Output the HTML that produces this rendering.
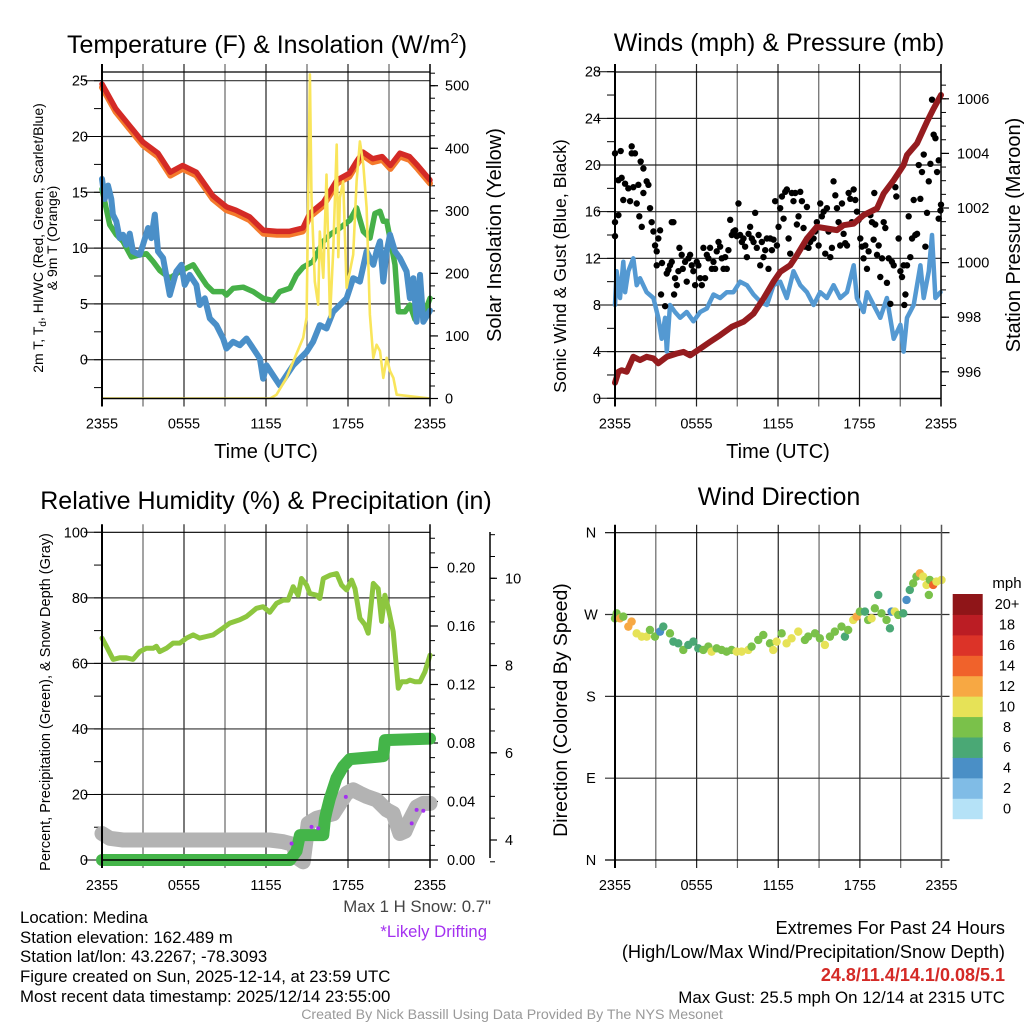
<!DOCTYPE html>
<html><head><meta charset="utf-8">
<style>
html,body{margin:0;padding:0;background:#fff;}
svg{display:block;font-family:"Liberation Sans",Arial,sans-serif;}
</style></head>
<body>
<svg id="chart" width="1024" height="1024" viewBox="0 0 1024 1024" xmlns="http://www.w3.org/2000/svg">
<rect x="0" y="0" width="1024" height="1024" fill="#fff"/>
<g id="layer"></g>
<text x="267" y="53" font-size="25" text-anchor="middle">Temperature (F) &amp; Insolation (W/m<tspan font-size="15" dy="-10">2</tspan><tspan dy="10">)</tspan></text>
<text x="779" y="51" font-size="25" text-anchor="middle">Winds (mph) &amp; Pressure (mb)</text>
<text x="266" y="509" font-size="25" text-anchor="middle">Relative Humidity (%) &amp; Precipitation (in)</text>
<text x="779" y="505" font-size="25" text-anchor="middle">Wind Direction</text>

<text x="266" y="458" font-size="20" text-anchor="middle">Time (UTC)</text>
<text x="778" y="458" font-size="20" text-anchor="middle">Time (UTC)</text>

<text transform="translate(43,238) rotate(-90)" font-size="14" text-anchor="middle">2m T, T<tspan font-size="10" dy="3">d</tspan><tspan dy="-3">, HI/WC (Red, Green, Scarlet/Blue)</tspan></text>
<text transform="translate(57,238) rotate(-90)" font-size="14" text-anchor="middle">&amp; 9m T (Orange)</text>
<text transform="translate(501,235) rotate(-90)" font-size="20" text-anchor="middle">Solar Insolation (Yellow)</text>
<text transform="translate(566,266) rotate(-90)" font-size="17.7" text-anchor="middle">Sonic Wind &amp; Gust (Blue, Black)</text>
<text transform="translate(1020,235) rotate(-90)" font-size="20" text-anchor="middle">Station Pressure (Maroon)</text>
<text transform="translate(50,702) rotate(-90)" font-size="14.5" text-anchor="middle">Percent, Precipitation (Green), &amp; Snow Depth (Gray)</text>
<text transform="translate(567,710) rotate(-90)" font-size="19.5" text-anchor="middle">Direction (Colored By Speed)</text>

<text x="491" y="912" font-size="16.8" fill="#444" text-anchor="end">Max 1 H Snow: 0.7"</text>
<text x="487" y="937" font-size="16.7" fill="#a431f0" text-anchor="end">*Likely Drifting</text>

<g font-size="16.8">
<text x="20" y="923">Location: Medina</text>
<text x="20" y="943">Station elevation: 162.489 m</text>
<text x="20" y="962">Station lat/lon: 43.2267; -78.3093</text>
<text x="20" y="982">Figure created on Sun, 2025-12-14, at 23:59 UTC</text>
<text x="20" y="1002">Most recent data timestamp: 2025/12/14 23:55:00</text>
</g>
<g text-anchor="end">
<text x="1005" y="934" font-size="18.2">Extremes For Past 24 Hours</text>
<text x="1005" y="958" font-size="18.2">(High/Low/Max Wind/Precipitation/Snow Depth)</text>
<text x="1005" y="981" font-size="18" fill="#d42a26" font-weight="bold">24.8/11.4/14.1/0.08/5.1</text>
<text x="1005" y="1003" font-size="16.9">Max Gust: 25.5 mph On 12/14 at 2315 UTC</text>
</g>
<text x="512" y="1019" font-size="14.2" fill="#999" text-anchor="middle">Created By Nick Bassill Using Data Provided By The NYS Mesonet</text>
</svg>
<script>
// ---------- data ----------
const xTickLabels = ["2355","0555","1155","1755","2355"];
const tempTicks = [0,5,10,15,20,25];
const insolTicks = [0,100,200,300,400,500];
const windTicks = [0,4,8,12,16,20,24,28];
const presTicks = [996,998,1000,1002,1004,1006];
const rhTicks = [0,20,40,60,80,100];
const precipTicks = [0.00,0.04,0.08,0.12,0.16,0.20];
const snowTicks = [4,6,8,10];
const dirLabels = ["N","E","S","W","N"];
const dirTicks = [0,90,180,270,360];
const speedBins = ["0","2","4","6","8","10","12","14","16","18","20+"];

const redHours = [0,1,2,3,4.1,5,5.9,6.9,8.1,9.1,9.8,10.8,11.8,12.8,13.7,14.7,15.2,16.2,17.2,18.1,18.6,19.1,19.8,20.5,21.1,21.8,22.5,23.1,24];
const redTemp =  [24.7,22.5,21,19.5,18.5,16.8,17.4,16.8,14.7,13.7,13.4,12.8,11.6,11.5,11.5,11.8,13.1,14.1,16.1,16.7,17.7,18.6,18,18.2,17.4,18.5,18.2,17.4,16.1];
const orangeTemp=[24.4,22.2,20.7,19.2,18.2,16.5,17.1,16.5,14.4,13.4,13.1,12.5,11.3,11.2,11.2,11.5,12.8,13.8,15.8,16.4,17.4,18.3,17.7,17.9,17.1,18.2,17.9,17.1,15.8];
const blueHours = [0,0.2,0.44,0.68,0.8,1.05,1.29,1.54,1.78,2.03,2.27,2.76,3,3.37,3.61,3.86,4.1,4.47,4.96,5.44,5.81,6.05,6.42,6.91,7.15,7.52,7.89,8.37,8.86,9.1,9.59,10.08,10.57,11.06,11.55,11.79,12.04,12.52,13.01,13.5,13.99,14.48,14.97,15.45,15.94,16.43,16.92,17.41,17.9,18.38,18.87,19.36,19.85,20.09,20.34,20.58,20.83,21.07,21.44,21.8,22.29,22.53,22.78,23.02,23.27,23.51,24];
const blueTemp =  [16.2,14.4,15.6,14.4,13,12.4,10.9,11.2,10.3,11.3,9.7,9.4,10.3,11.8,10.9,13,9.7,9.1,5.8,7.9,8.5,6.7,7.6,6.7,4.9,5.5,3.7,3.1,1.9,1,1.6,1.3,1.9,1,0.1,-1.7,-0.5,-1.4,-2.3,-1.4,-0.5,0.1,0.7,1.6,3.1,2.8,4.3,4.9,5.5,7.3,7,9.7,8.5,9.7,10.6,7,9.7,11.2,9.7,9.1,7.9,5.5,7.3,3.4,7.6,3.4,4.4];
const greenHours = [0,0.56,1.05,1.54,2.15,2.76,3.25,3.74,4.22,4.96,5.69,6.18,6.67,7.15,7.64,8.13,8.86,9.1,9.59,10.33,11.06,11.79,12.52,13.01,13.75,14.23,14.72,15.45,16.19,16.68,17.41,18.14,18.63,19.12,19.61,19.97,20.34,20.58,20.83,21.07,21.44,21.68,22.17,22.53,22.9,23.27,23.63,24];
const greenTemp =  [15.3,12.1,11.2,10.6,9.2,9.4,9.5,8.8,8,7.3,7.9,8.2,8.5,7.6,6.7,6.1,6.1,5.8,6.4,6.5,6.1,5.5,5.3,6.1,6.4,7.6,8.3,8.8,10.6,11.2,11.8,12.5,13.6,11.5,10.9,13.1,13.3,12.4,12.4,10.9,8.5,4.3,4.3,4.9,3.6,4.3,4.3,5.5];
const solarHours = [0,12.3,12.77,13.5,14.11,14.72,14.97,15.09,15.21,15.33,15.57,15.82,15.94,16.19,16.43,16.68,16.92,17.17,17.29,17.41,17.65,17.9,18.38,18.63,18.87,19.12,19.36,19.6,19.85,20.09,20.34,20.58,20.83,21.07,21.32,21.56,24];
const solarVals =  [0,0,6,33,65,97,130,321,518,321,187,150,267,193,358,130,235,406,226,321,347,177,230,347,411,374,305,134,65,86,76,33,65,44,33,6,0];

const windHours = [0,0.12,0.37,0.61,0.74,0.98,1.35,1.6,1.84,2.33,2.83,3.19,3.44,3.69,3.81,4.05,4.42,4.79,5.28,5.77,6.27,6.76,7.25,7.74,8.23,8.72,9.21,9.71,10.2,10.69,11.18,11.67,12.16,12.65,13.14,13.64,14.13,14.62,15.11,15.6,16.09,16.58,17.08,17.57,17.81,18.3,18.55,19.04,19.53,20.02,20.52,21.01,21.25,21.5,21.99,22.48,22.73,23.1,23.34,23.59,23.96];
const windSpeed = [8,10.9,8.6,11.7,9.1,10.9,12,9.7,10.3,9.1,8.6,6.9,5.1,6.9,4,8,7.4,6.9,7.4,6.6,7.4,7.7,8.9,8.6,9.1,9.1,10,9.7,8.9,8.3,8,9.7,10,8.6,10.9,9.7,9.1,8,9.1,8.6,9.7,8.6,9.1,11.4,8.6,7.4,9.1,8,6.9,8.6,5.1,6.3,4,6.9,8,11.4,8.6,10.9,14,8.6,9.1];
const gustHours = [0,0,0,0.25,0.25,0.42,0.49,0.61,0.74,0.98,1.11,1.23,1.23,1.35,1.47,1.6,1.72,1.79,1.89,1.97,2.09,2.09,2.33,2.46,2.58,2.7,2.83,2.95,3.07,3.19,3.32,3.07,3.39,3.46,3.69,3.81,3.93,4.05,4.18,4.18,4.3,4.35,4.42,4.55,4.67,4.74,4.91,4.99,5.16,5.28,5.41,5.53,5.65,5.77,5.9,6.02,6.14,6.27,6.39,6.51,6.63,6.76,6.88,7,7.13,7.25,7.37,7.49,7.62,7.74,7.86,7.99,8.11,8.23,8.35,8.48,8.6,8.72,8.85,8.97,9.09,9.21,9.34,9.46,9.58,9.71,9.83,9.95,10.07,10.2,10.32,10.44,10.57,10.69,10.81,10.93,11.06,11.18,11.3,11.43,11.55,11.67,11.79,11.92,12.04,12.16,12.29,12.41,12.53,12.65,12.78,12.9,13.02,13.14,13.27,13.39,13.51,13.64,13.76,13.88,14,14.13,14.25,14.37,14.62,14.74,14.86,14.99,15.11,15.23,15.36,15.48,15.6,15.72,15.85,15.97,16.09,16.22,16.34,16.46,16.58,16.71,16.83,16.95,17.08,17.2,17.32,17.44,17.57,17.69,17.81,17.94,18.06,18.18,18.3,18.43,18.55,18.67,18.8,18.92,19.04,19.09,19.16,19.29,19.41,19.53,19.66,19.78,19.9,20.02,20.15,20.27,20.39,20.52,20.64,20.71,20.88,21.01,21.13,21.25,21.3,21.38,21.5,21.62,21.74,21.87,21.99,22.11,22.24,22.36,22.48,22.6,22.73,22.85,22.97,23.1,23.22,23.34,23.46,23.59,23.71,23.83,23.83,23.96,24];
const gustSpeed = [13.9,15.1,21,18.7,15.7,21.2,18.9,17,18.4,18,16.9,21.6,21,18.1,21,16.7,18.3,15.6,20.3,14.7,19.7,17.6,18.6,18.3,16.3,15.1,14.3,13.1,12.6,13.7,14.4,11.4,8.9,11.6,7.9,10.7,11,11.4,11.7,15.1,15.1,8.9,10.3,9.7,10.9,12.9,12.3,11.1,11.7,10,12,12.3,11.4,10.9,9.7,11.7,11.4,10.3,9.7,12.9,10.3,12.3,12,12.9,11.1,11.7,11.1,12.6,13.4,13,12,11.1,12.1,11.1,12.7,15.3,14,14.3,14.4,13.9,16.7,14,13.4,13.7,13,12.1,14.1,14.7,13.7,13.4,15.9,12.9,14,11.4,13.4,12.1,12.7,13.7,11.1,13.7,12.7,13.6,16.9,13.1,14.7,16.3,17.3,15.4,17.7,17.9,13.7,12.4,17.6,16.9,17.6,14.9,15.6,17.7,16.9,14.6,13,16.4,12.9,13.4,13.7,14.3,15.1,13.1,16.7,15.6,16,12.4,16.3,14.3,12.1,12.9,18.6,17.4,16.3,15.1,13.1,16.7,14.1,13.3,13.1,17.6,17.1,15.1,17.9,17,16,15.3,13.7,13,12,13.1,11.1,12.6,15.7,15.1,13.6,17.6,14.9,12.3,13.1,10.4,12,15.1,14.6,9.9,12,8.1,11.7,11.4,18.1,17.3,13.7,10.9,10.4,11.4,8,8.9,11.4,15.6,12.1,13.7,17,14,14.1,20,17.1,19.4,20.9,13,15.9,18.6,20.1,25.6,22.6,22.3,19.4,20.4,15.4,16.1,16.6];
const presHours = [0,0.25,0.49,0.86,1.35,1.84,2.33,2.83,3.19,3.81,4.55,5.04,5.53,6.27,7,7.74,8.6,9.46,10.2,10.93,11.67,12.16,12.9,13.39,14.13,14.86,15.6,16.34,16.83,17.57,18.3,19.29,19.78,20.52,21.25,21.5,22.24,22.97,23.46,24];
const presVals = [995.6,996,996.06,996,996.55,996.43,996.55,996.49,996.31,996.55,996.67,996.73,996.6,996.85,997.1,997.34,997.65,997.83,998.13,998.68,999.3,999.66,999.9,1000.27,1000.88,1001.31,1001.25,1001.19,1001.37,1001.43,1001.74,1001.98,1002.53,1003.02,1003.57,1003.94,1004.37,1005.16,1005.65,1006.14];

const rhHours = [0,0.32,0.81,1.29,1.78,2.27,2.76,3.25,3.74,3.98,4.22,4.71,5.2,5.69,6.18,6.67,7.15,7.64,8.13,8.86,9.35,10.08,10.57,11.3,11.79,12.28,12.77,13.26,13.62,13.99,14.35,14.6,14.97,15.21,15.7,15.94,16.19,16.68,17.17,17.53,17.9,18.26,18.51,18.87,19.24,19.48,19.85,20.21,20.46,20.7,20.95,21.31,21.68,21.92,22.29,22.53,22.9,23.27,23.63,24];
const rhVals = [67.7,65.2,61.2,61.7,61.7,61.2,63.6,64.6,64.6,65.2,63.6,64.6,66.2,66.2,67.7,68.7,67.7,68.2,68.7,70.8,72.3,73.3,74.3,76.8,77.3,75.6,78.3,79.3,79.3,83.4,80.8,85.9,83.9,81.3,80.8,79.8,85.9,86.9,87.4,83.9,82.4,85.4,82.8,73.8,71.8,69.2,84.4,82.8,72.8,80.8,76.8,69.7,52.4,54.4,54.4,54.9,54.4,54.4,57.4,62.5];
const precipHours = [0,13.75,14.23,14.48,16.19,16.31,16.43,16.67,16.92,17.16,17.65,18.14,20.58,20.7,24];
const precipVals = [0,0,0.006,0.017,0.017,0.028,0.033,0.042,0.049,0.056,0.064,0.069,0.071,0.082,0.083];
const snowHours = [0,0.56,1.54,12.28,13.26,13.99,14.23,14.72,15.09,15.7,16.92,17.41,17.9,18.38,18.87,19.36,20.09,20.83,21.31,21.8,22.17,22.53,23.02,23.51,24];
const snowVals = [4.15,4.04,4.0,4.0,3.96,3.9,3.6,3.5,4.38,4.5,4.6,4.84,5.07,5.15,5.07,5.0,4.92,4.69,4.61,4.15,4.2,4.46,4.76,4.84,4.84];
const driftHours = [13.87,15.33,15.82,17.84,22.66,23.02,23.51];
const driftVals = [3.92,4.3,4.27,4.99,4.38,4.69,4.67];

const dirHours = [0,0.12,0.37,0.61,0.98,1.22,1.59,1.96,2.33,2.57,2.94,3.31,3.55,4.04,4.29,4.65,5.02,5.39,5.76,6.12,6.49,6.86,7.1,7.47,7.84,8.2,8.57,8.94,9.31,9.8,10.04,10.53,10.9,11.39,11.63,11.88,12.25,12.61,12.98,13.47,13.96,14.2,14.7,15.06,15.43,15.8,16.16,16.65,16.9,17.14,17.51,17.76,18,18.37,18.61,18.86,19.1,19.35,19.59,19.96,20.21,20.33,20.57,20.82,21.19,21.43,21.67,21.92,22.16,22.41,22.65,22.9,23.07,23.14,23.39,23.63,24];
const dirDeg = [265.8,271.3,265.8,267.7,256.7,262.2,249.3,245.7,245.7,253,245.7,251.2,256.7,249.3,240.2,238.3,231,236.5,240.2,232.8,231,234.7,229.2,232.8,231,229.2,231,229.2,229.2,231,234.7,242,247.5,238.3,231,240.2,249.3,238.3,243.8,251.2,242,245.7,249.3,243.8,236.5,245.7,251.2,256.7,245.7,253,264,267.7,273.2,273.2,264,265.8,276.8,291.5,271.3,264,254.8,273.2,273.2,269.5,271.3,286,297,304.3,311.7,315.3,311.7,302.5,291.5,308,302.5,306.2,308];
const dirSpeed = [8,8,12,8,12,12,10,10,10,8,8,4,6,8,6,6,8,6,6,6,8,8,10,8,8,8,8,10,10,10,8,8,8,8,10,10,8,10,10,10,8,8,8,8,10,8,8,8,6,8,10,12,8,6,8,10,8,6,8,8,6,4,10,8,6,4,6,8,8,12,10,10,8,8,14,10,10];

// ---------- helpers ----------
const NS="http://www.w3.org/2000/svg";
const layer=document.getElementById('layer');
function mk(tag,attrs,parent){const e=document.createElementNS(NS,tag);for(const k in attrs)e.setAttribute(k,attrs[k]);(parent||layer).appendChild(e);return e;}
function lin(d0,d1,r0,r1){return v=>r0+(v-d0)*(r1-r0)/(d1-d0);}
function pathFrom(hs,vs,xf,yf){return hs.map((h,i)=>(i?'L':'M')+xf(h).toFixed(1)+','+yf(vs[i]).toFixed(1)).join(' ');}
const speedColors=["#b5e2f7","#80bce6","#4a8fc6","#4aa875","#7ac14a","#e6e257","#f7a843","#f0622b","#dc3328","#bb1d24","#8f1518"];

function frame(L,R,T,B,name){
  const g=mk('g',{});
  
  
  const xf=lin(0,24,L,R);
  for(let h=3;h<24;h+=3){
    mk('line',{x1:xf(h),x2:xf(h),y1:T-8,y2:B+8,stroke:h%6===0?'#222':'#666','stroke-width':1.2},g);
  }
  xTickLabels.forEach((t,i)=>{
    const tx=mk('text',{x:xf(i*6),y:B+30,'font-size':14.5,'text-anchor':'middle'},g);
    
    
    tx.textContent=t;
  });
  return {g,xf};
}
function border(L,R,T,B,parent){
  mk('line',{x1:L,x2:L,y1:T-8,y2:B+8,stroke:'#000','stroke-width':2},parent);
  mk('line',{x1:R,x2:R,y1:T-8,y2:B+8,stroke:'#000','stroke-width':1.5},parent);
  mk('line',{x1:L,x2:R,y1:T,y2:T,stroke:'#000','stroke-width':1.2},parent);
  mk('line',{x1:L,x2:R,y1:B,y2:B,stroke:'#000','stroke-width':1.5},parent);
}
function leftAxis(ticks,yf,L,labelFmt,parent,minorStep,lo,hi){
  ticks.forEach(v=>{
    mk('line',{x1:L-18,x2:L,y1:yf(v),y2:yf(v),stroke:'#000','stroke-width':1},parent);
    const t=mk('text',{x:L-14,y:yf(v)+5,'font-size':14.5,'text-anchor':'end'},parent);
    
    
    t.textContent=labelFmt(v);
  });
  if(minorStep){for(let v=lo;v<=hi+1e-9;v+=minorStep){mk('line',{x1:L-8,x2:L,y1:yf(v),y2:yf(v),stroke:'#000','stroke-width':1},parent);}}
}
function rightAxis(ticks,yf,X,labelFmt,parent,minorStep,lo,hi,labX){
  ticks.forEach(v=>{
    mk('line',{x1:X,x2:X+8,y1:yf(v),y2:yf(v),stroke:'#000','stroke-width':1.2},parent);
    const t=mk('text',{x:labX,y:yf(v)+5,'font-size':14.5,'text-anchor':'start'},parent);
    
    
    t.textContent=labelFmt(v);
  });
  if(minorStep){for(let v=lo;v<=hi+1e-9;v+=minorStep){mk('line',{x1:X,x2:X+5,y1:yf(v),y2:yf(v),stroke:'#000','stroke-width':1},parent);}}
}
function hgrid(ticks,yf,L,R,parent,col){ticks.forEach(v=>mk('line',{x1:L,x2:R,y1:yf(v),y2:yf(v),stroke:col||'#222','stroke-width':1.2},parent));}

// ---------- panel 1: temperature ----------
(function(){
  const L=102,R=430,T=72,B=398.5;
  const {g,xf}=frame(L,R,T,B,'temp');
  const yf=lin(0,25,359.7,80.7);
  const y2=lin(0,500,398.5,85.7);
  hgrid(tempTicks,yf,L,R,g,'#333');
  leftAxis(tempTicks,yf,L,v=>v,g,2.5,-2.5,25);
  rightAxis(insolTicks,y2,R,v=>v,g,20,0,520,445);
  const clip=mk('clipPath',{id:'c1'});mk('rect',{x:L-4,y:T,width:R-L+8,height:B-T},clip);
  const s=mk('g',{'clip-path':'url(#c1)'});
  let p;
  p=mk('path',{d:pathFrom(redHours,orangeTemp,xf,yf),fill:'none',stroke:'#f47a2c','stroke-width':6,'stroke-linejoin':'round','stroke-linecap':'round'},s);
  
  p=mk('path',{d:pathFrom(redHours,redTemp,xf,yf),fill:'none',stroke:'#d42a26','stroke-width':5.5,'stroke-linejoin':'round','stroke-linecap':'round'},s);
  
  p=mk('path',{d:pathFrom(greenHours,greenTemp,xf,yf),fill:'none',stroke:'#46b048','stroke-width':5.5,'stroke-linejoin':'round','stroke-linecap':'round'},s);
  
  p=mk('path',{d:pathFrom(blueHours,blueTemp,xf,yf),fill:'none',stroke:'#4a8fc8','stroke-width':6,'stroke-linejoin':'round','stroke-linecap':'round'},s);
  
  p=mk('path',{d:pathFrom(solarHours,solarVals,xf,y2),fill:'none',stroke:'#f9e55b','stroke-width':2.6,'stroke-linejoin':'round'},s);
  
  border(L,R,T,B,layer);
})();

// ---------- panel 2: winds ----------
(function(){
  const L=615,R=941,T=72,B=398.5;
  const {g,xf}=frame(L,R,T,B,'wind');
  const yf=lin(0,28,398.3,71.7);
  const y2=lin(996,1006,371.8,98.8);
  hgrid(windTicks.slice(1,7),yf,L,R,g,'#222');
  leftAxis(windTicks,yf,L,v=>v,g,2,0,28);
  rightAxis(presTicks,y2,R,v=>v,g,0.5,995.5,1006.5,957);
  const clip=mk('clipPath',{id:'c2'});mk('rect',{x:L-4,y:T,width:R-L+8,height:B-T+4},clip);
  const s=mk('g',{'clip-path':'url(#c2)'});
  let p=mk('path',{d:pathFrom(windHours,windSpeed,xf,yf),fill:'none',stroke:'#5499d2','stroke-width':4.5,'stroke-linejoin':'round','stroke-linecap':'round'},s);
  
  gustHours.forEach((h,i)=>{
    const c=mk('circle',{cx:xf(h),cy:yf(gustSpeed[i]),r:3.2,fill:'#000'},s);
    
    
  });
  p=mk('path',{d:pathFrom(presHours,presVals,xf,y2),fill:'none',stroke:'#951c1f','stroke-width':6,'stroke-linejoin':'round','stroke-linecap':'round'},s);
  
  border(L,R,T,B,layer);
})();

// ---------- panel 3: RH & precip ----------
(function(){
  const L=102,R=430,T=532.3,B=860;
  const {g,xf}=frame(L,R,T,B,'rh');
  const yf=lin(0,100,860,532.3);
  const yp=lin(0,0.2,860,567.5);
  const ys=lin(4,10,840,578.3);
  hgrid([20,40,60,80],yf,L,R,g,'#333');
  leftAxis(rhTicks,yf,L,v=>v,g,10,0,100);
  rightAxis(precipTicks,yp,R,v=>v.toFixed(2),g,0.01,0,0.22,447);
  const sa=mk('g',{});
  
  
  mk('line',{x1:490,x2:490,y1:532,y2:858,stroke:'#000','stroke-width':1.5},sa);
  for(let v=3.5;v<=11.3;v+=0.5){mk('line',{x1:490,x2:495,y1:ys(v),y2:ys(v),stroke:'#000','stroke-width':1},sa);}
  snowTicks.forEach(v=>{
    mk('line',{x1:490,x2:497,y1:ys(v),y2:ys(v),stroke:'#000','stroke-width':1.2},sa);
    const t=mk('text',{x:505,y:ys(v)+5,'font-size':14.5},sa);
    
    
    t.textContent=v;
  });
  const s=mk('g',{});
  let p=mk('path',{d:pathFrom(rhHours,rhVals,xf,yf),fill:'none',stroke:'#8dc63f','stroke-width':5,'stroke-linejoin':'round','stroke-linecap':'round'},s);
  
  p=mk('path',{d:pathFrom(snowHours,snowVals,xf,ys),fill:'none',stroke:'#b3b3b3','stroke-width':15,'stroke-linejoin':'round','stroke-linecap':'round'},s);
  
  p=mk('path',{d:pathFrom(precipHours,precipVals,xf,yp),fill:'none',stroke:'#44b549','stroke-width':12,'stroke-linejoin':'round','stroke-linecap':'round'},s);
  
  driftHours.forEach((h,i)=>{
    const c=mk('circle',{cx:xf(h),cy:ys(driftVals[i]),r:2,fill:'#a431f0'},s);
    
    
  });
  border(L,R,T,B,layer);
})();

// ---------- panel 4: direction ----------
(function(){
  const L=615,R=941.5,T=532.7,B=860;
  const {g,xf}=frame(L,R,T,B,'direction');
  const yf=lin(0,360,860,532.7);
  dirTicks.forEach((v,i)=>{
    mk('line',{x1:L-10,x2:R+8,y1:yf(v),y2:yf(v),stroke:(i===0||i===4)?'#000':'#333','stroke-width':1.2},g);
    const t=mk('text',{x:591,y:yf(v)+5,'font-size':14.5,'text-anchor':'middle'},g);
    
    
    t.textContent=dirLabels[i];
  });
  dirHours.forEach((h,i)=>{
    const c=mk('circle',{cx:xf(h),cy:yf(dirDeg[i]),r:4.2,fill:speedColors[Math.min(10,Math.round(dirSpeed[i]/2))]});
    
    
  });
  mk('line',{x1:L,x2:L,y1:T-8,y2:B+8,stroke:'#000','stroke-width':2});
  mk('line',{x1:R,x2:R,y1:T-8,y2:B+8,stroke:'#555','stroke-width':1.5});
  const cb=mk('g',{});
  
  
  const top=594,h=(818.7-594)/speedBins.length;
  const mph=mk('text',{x:1007,y:588,'font-size':15,'text-anchor':'middle'},cb);mph.textContent='mph';
  speedBins.forEach((lab,i)=>{
    const j=speedBins.length-1-i;
    const r=mk('rect',{x:952.7,y:top+j*h,width:30,height:h+0.5,fill:speedColors[i]},cb);
    
    
    const t=mk('text',{x:1007,y:top+j*h+h/2+5,'font-size':14.5,'text-anchor':'middle'},cb);
    
    
    t.textContent=lab;
  });
})();
</script>
</body></html>
